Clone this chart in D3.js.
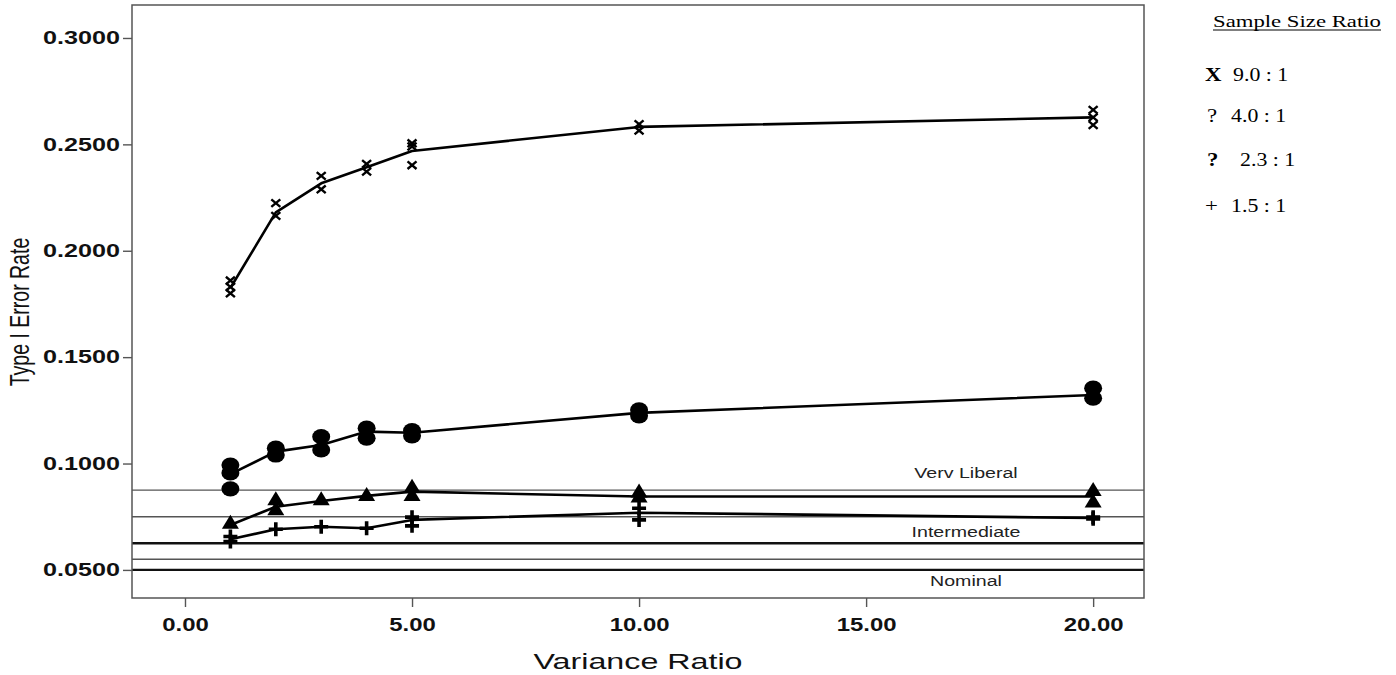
<!DOCTYPE html>
<html>
<head>
<meta charset="utf-8">
<script src="https://cdn.jsdelivr.net/npm/d3@7"></script>
<style>
  html, body { margin: 0; padding: 0; background: #ffffff; }
  svg { display: block; }
</style>
</head>
<body>
<svg id="chart" width="1396" height="675"></svg>
<script>
// Variance ratios on the x axis
const varianceRatios = [1, 2, 3, 4, 5, 10, 20];

// Sample size ratio groups
const groupLabels = ["9.0 : 1", "4.0 : 1", "2.3 : 1", "1.5 : 1"];
const groupSymbols = ["X", "?", "?", "+"];
const groupSymbolBold = [true, false, true, false];

// Mean Type I error rate per variance ratio (line through each group)
const ratio90Means = [0.1825, 0.2180, 0.2317, 0.2392, 0.2469, 0.2582, 0.2627];
const ratio40Means = [0.0950, 0.1056, 0.1087, 0.1150, 0.1145, 0.1238, 0.1322];
const ratio23Means = [0.0711, 0.0797, 0.0824, 0.0848, 0.0868, 0.0845, 0.0845];
const ratio15Means = [0.0644, 0.0691, 0.0703, 0.0696, 0.0735, 0.0769, 0.0744];

// Individual condition rates per variance ratio
const ratio90Points = [[0.1860, 0.1830, 0.1800], [0.2224, 0.2164], [0.2352, 0.2289], [0.2408, 0.2372],
                       [0.2505, 0.2490, 0.2402], [0.2595, 0.2565], [0.2662, 0.2627, 0.2591]];
const ratio40Points = [[0.0993, 0.0956, 0.0881], [0.1072, 0.1040], [0.1126, 0.1064], [0.1166, 0.1119],
                       [0.1155, 0.1130], [0.1252, 0.1224], [0.1354, 0.1307]];
const ratio23Points = [[0.0722], [0.0832, 0.0785], [0.0832], [0.0852],
                       [0.0891, 0.0852], [0.0868, 0.0845], [0.0876, 0.0821]];
const ratio15Points = [[0.0657, 0.0633], [0.0691], [0.0703], [0.0696],
                       [0.0748, 0.0707], [0.0790, 0.0735], [0.0748, 0.0740]];

// Robustness criterion reference lines
const criterionValues = [0.0875, 0.075, 0.0625, 0.055, 0.05];
const criterionHeavy  = [false, false, true, false, true];
const criterionLabels = ["Verv Liberal", "Intermediate", "Nominal"];
const criterionLabelValues = [0.0875, 0.0625, 0.05];
const criterionLabelOffset = [-12, -6, 16];

// Axis ticks
const yTicks = [0.05, 0.10, 0.15, 0.20, 0.25, 0.30];
const xTicks = [0, 5, 10, 15, 20];

// ---- layout ----
const SX = 1.4;                 // horizontal glyph stretch used for all text
const frame = { left: 132, right: 1144, top: 5, bottom: 598 };

const svg = d3.select("#chart");

const x = d3.scaleLinear().domain([-1.167, 21.12]).range([frame.left, frame.right]);
const y = d3.scaleLinear().domain([0.0368, 0.3155]).range([frame.bottom, frame.top]);

function stretchedText(parent, tx, ty, str, opts) {
  const t = parent.append("text")
    .attr("transform", `translate(${tx},${ty}) scale(${opts.sx || SX},1)`)
    .attr("text-anchor", opts.anchor || "start")
    .style("font-family", opts.family || "Arial, 'Liberation Sans', sans-serif")
    .style("font-size", (opts.size || 14) + "px")
    .style("font-weight", opts.weight || "normal")
    .attr("fill", opts.fill || "#000")
    .text(str);
  return t;
}

// Reference lines for robustness criteria
const refG = svg.append("g");
criterionValues.forEach((v, i) => {
  refG.append("line")
    .attr("x1", frame.left).attr("x2", frame.right)
    .attr("y1", y(v)).attr("y2", y(v))
    .attr("stroke", criterionHeavy[i] ? "#111" : "#555")
    .attr("stroke-width", criterionHeavy[i] ? 2.4 : 1.4);
});
criterionLabels.forEach((lab, i) => {
  const yy = y(criterionLabelValues[i]) + criterionLabelOffset[i];
  stretchedText(refG, 966, yy, lab, { anchor: "middle", size: 14, fill: "#222" });
});

// Plot frame
svg.append("rect")
  .attr("x", frame.left).attr("y", frame.top)
  .attr("width", frame.right - frame.left).attr("height", frame.bottom - frame.top)
  .attr("fill", "none").attr("stroke", "#555").attr("stroke-width", 1.5);

// Axes
const yAxis = svg.append("g")
  .attr("transform", `translate(${frame.left},0)`)
  .call(d3.axisLeft(y).tickValues(yTicks).tickFormat(d3.format(".4f")).tickSize(9).tickSizeOuter(0).tickPadding(3));
const xAxis = svg.append("g")
  .attr("transform", `translate(0,${frame.bottom})`)
  .call(d3.axisBottom(x).tickValues(xTicks).tickFormat(d3.format(".2f")).tickSize(9).tickSizeOuter(0).tickPadding(11));

[yAxis, xAxis].forEach(ax => {
  ax.select(".domain").remove();
  ax.selectAll(".tick line").attr("stroke", "#555").attr("stroke-width", 1.4);
  ax.selectAll(".tick text")
    .style("font-family", "Arial, 'Liberation Sans', sans-serif")
    .style("font-size", "18px")
    .style("font-weight", "bold")
    .attr("fill", "#111");
});
yAxis.selectAll(".tick text").each(function () {
  const t = d3.select(this);
  const xx = +t.attr("x");
  t.attr("x", null).attr("transform", `translate(${xx},0) scale(${SX},1)`);
});
xAxis.selectAll(".tick text").attr("transform", `scale(${SX * 0.95},1)`);

// Axis titles
stretchedText(svg, 638, 669, "Variance Ratio", { anchor: "middle", size: 21.5, sx: 1.5, fill: "#111" });
svg.append("text")
  .attr("transform", `translate(29,312) scale(${SX},1) rotate(-90)`)
  .attr("text-anchor", "middle")
  .style("font-family", "Arial, 'Liberation Sans', sans-serif")
  .style("font-size", "19.5px")
  .attr("fill", "#111")
  .text("Type I Error Rate");

// Series
const series = [
  { means: ratio90Means, points: ratio90Points, shape: "cross" },
  { means: ratio40Means, points: ratio40Points, shape: "circle" },
  { means: ratio23Means, points: ratio23Points, shape: "triangle" },
  { means: ratio15Means, points: ratio15Points, shape: "plus" }
];

const line = d3.line()
  .x((d, i) => x(varianceRatios[i]))
  .y(d => y(d));

const plotG = svg.append("g");

function drawMarker(g, cx, cy, shape) {
  if (shape === "cross") {
    const r = 4.5, ry = 3.8;
    g.append("path")
      .attr("d", `M${cx - r},${cy - ry}L${cx + r},${cy + ry}M${cx - r},${cy + ry}L${cx + r},${cy - ry}`)
      .attr("stroke", "#000").attr("stroke-width", 2.4).attr("fill", "none");
  } else if (shape === "circle") {
    g.append("ellipse").attr("cx", cx).attr("cy", cy).attr("rx", 9).attr("ry", 7.6).attr("fill", "#000");
  } else if (shape === "triangle") {
    g.append("path")
      .attr("d", `M${cx},${cy - 8}L${cx + 8.5},${cy + 6}L${cx - 8.5},${cy + 6}Z`)
      .attr("fill", "#000");
  } else if (shape === "plus") {
    const r = 7;
    g.append("path")
      .attr("d", `M${cx - r},${cy}L${cx + r},${cy}M${cx},${cy - r}L${cx},${cy + r}`)
      .attr("stroke", "#000").attr("stroke-width", 3.6).attr("fill", "none");
  }
}

series.forEach(s => {
  plotG.append("path")
    .datum(s.means)
    .attr("d", line)
    .attr("fill", "none")
    .attr("stroke", "#000")
    .attr("stroke-width", 2.6)
    .attr("stroke-linejoin", "round");
  s.points.forEach((vals, i) => {
    vals.forEach(v => drawMarker(plotG, x(varianceRatios[i]), y(v), s.shape));
  });
});

// Legend
const legG = svg.append("g");
const serif = "'Times New Roman', 'Liberation Serif', serif";
stretchedText(legG, 1213, 27, "Sample Size Ratio", { size: 17.5, family: serif, sx: 1.3 });
legG.append("line")
  .attr("x1", 1213).attr("x2", 1381).attr("y1", 30).attr("y2", 30)
  .attr("stroke", "#000").attr("stroke-width", 1.2);

const legRowY = [81, 122, 166, 212];
const legSymX = [1205, 1207, 1207, 1205];
const legLabX = [1233, 1231, 1240, 1231];
groupLabels.forEach((lab, i) => {
  stretchedText(legG, legSymX[i], legRowY[i], groupSymbols[i],
    { size: 19, family: serif, sx: 1.2, weight: groupSymbolBold[i] ? "bold" : "normal" });
  stretchedText(legG, legLabX[i], legRowY[i], lab, { size: 19, family: serif, sx: 1.15 });
});
</script>
</body>
</html>
